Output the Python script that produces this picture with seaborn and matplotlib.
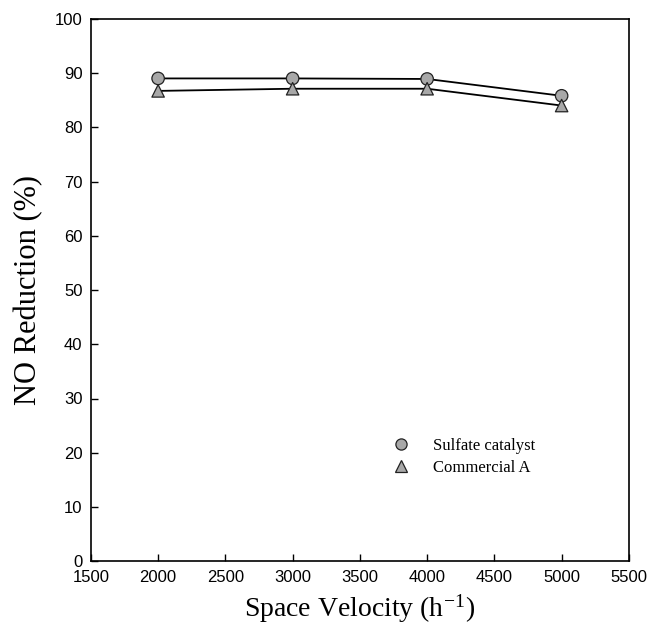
import matplotlib
matplotlib.use('Agg')
import pandas as pd
import seaborn as sns
import matplotlib.pyplot as plt

# values
space_velocity = [2000, 3000, 4000, 5000]
sulfate_catalyst = [89.0, 89.0, 88.9, 85.8]
commercial_a = [86.7, 87.1, 87.1, 84.0]

df = pd.DataFrame({
    'sv': space_velocity * 2,
    'reduction': sulfate_catalyst + commercial_a,
    'catalyst': ['Sulfate catalyst'] * 4 + ['Commercial A'] * 4,
})

sns.set_style('white')
plt.rcParams['font.family'] = ['Liberation Sans', 'DejaVu Sans']
plt.rcParams['mathtext.fontset'] = 'stix'

fig = plt.figure(figsize=(6.49, 6.25), dpi=100)
ax = fig.add_axes([0.140, 0.102, 0.829, 0.868])

# connecting lines
for name in ['Sulfate catalyst', 'Commercial A']:
    sns.lineplot(data=df[df.catalyst == name], x='sv', y='reduction',
                 color='black', linewidth=1.3, legend=False, ax=ax, sort=True)

# markers
sns.scatterplot(data=df, x='sv', y='reduction', style='catalyst',
                markers={'Sulfate catalyst': 'o', 'Commercial A': '^'},
                color='#a8a8a8', edgecolor='#222222', linewidth=0.9,
                s=80, zorder=3, ax=ax)

ax.set_xlim(1500, 5500)
ax.set_ylim(0, 100)
ax.set_xticks(range(1500, 5501, 500))
ax.set_yticks(range(0, 101, 10))
ax.tick_params(axis='both', direction='in', length=5, width=1,
               labelsize=12, colors='black', pad=6,
               bottom=True, left=True, top=False, right=False)
for sp in ax.spines.values():
    sp.set_color('black')
    sp.set_linewidth(1.2)

ax.set_xlabel('Space Velocity (h$^{\\mathregular{-1}}$)', fontsize=20,
              family='Liberation Serif', labelpad=5, color='black')
ax.set_ylabel('NO Reduction (%)', fontsize=22, family='Liberation Serif',
              labelpad=8, color='black')

leg = ax.legend(loc='upper left', bbox_to_anchor=(0.518, 0.255), frameon=False,
                prop={'family': 'Liberation Serif', 'size': 12},
                handletextpad=0.9, labelspacing=0.35, markerscale=0.9)
for t in leg.get_texts():
    t.set_color('black')

fig.savefig('out.png', dpi=100)
